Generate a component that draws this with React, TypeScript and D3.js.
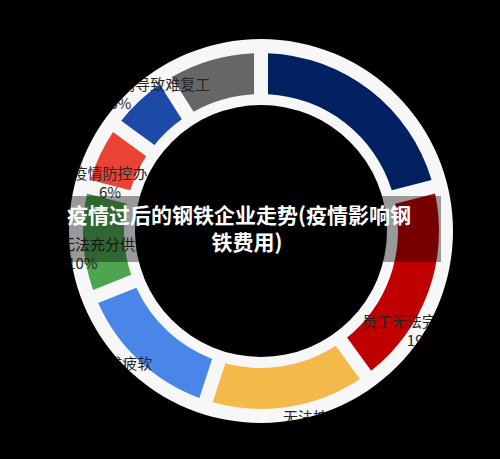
import React from 'react';
import * as d3 from 'd3';

// chart values
const causes = ['资金周转压力大', '员工无法完全返岗', '无法按时交货', '市场需求疲软', '原材料无法充分供应', '疫情防控办', '外地员工需隔离导致难复工', '物流运输受阻'];
const shares = [21, 19, 15, 14, 10, 6, 6, 9];
const colors = ['#002060', '#c00000', '#f4b94b', '#4a86e8', '#4da54f', '#ea4335', '#1c4aa6', '#666666'];
const titleLines = ['疫情过后的钢铁企业走势(疫情影响钢', '铁费用)'];

// label placement (degrees clockwise from top, radius)
const labelAngles = [45, 118.9, 160.1, 229.6, 266.2, 291.3, 316.4, 345];
const labelRadii = [250, 184, 197, 202, 179, 162, 204, 225];

const W = 500;
const H = 459;
const cx = 261;
const cy = 231;

const App: React.FC = () => {
  const total = d3.sum(shares);
  const rows = causes.map((name, i) => ({ name, value: shares[i], color: colors[i] }));

  const pie = d3.pie<any>().sort(null).value(d => d.value).startAngle(0).endAngle(Math.PI * 2);
  const arcs = pie(rows);

  const segArc = d3.arc<any>().innerRadius(137).outerRadius(178).padAngle(0.0623);
  const ringPath = d3.arc<any>()({ innerRadius: 126, outerRadius: 192, startAngle: 0, endAngle: Math.PI * 2 }) as string;
  const clipPath = d3.arc<any>()({ innerRadius: 126, outerRadius: 192.5, startAngle: 0, endAngle: Math.PI * 2 }) as string;

  return (
    <div style={{ position: 'absolute', left: 0, top: 0, width: W, height: H, background: '#000' }}>
      <svg width={W} height={H} style={{ display: 'block' }}>
        <defs>
          <clipPath id="ringClip">
            <path d={clipPath} transform={`translate(${cx},${cy})`} />
          </clipPath>
        </defs>
        <rect width={W} height={H} fill="#000" />
        <g transform={`translate(${cx},${cy})`}>
          <path d={ringPath} fill="#f7f7f7" />
          {arcs.map((a, i) => (
            <path key={i} d={segArc(a) as string} fill={a.data.color} />
          ))}
        </g>

        {/* labels only show on the light ring */}
        <g clipPath="url(#ringClip)" fontFamily="'Noto Sans CJK SC', 'Noto Sans', sans-serif" fontSize={15} fill="#262626" textAnchor="middle">
          {arcs.map((a, i) => {
            const [lx, ly] = d3.pointRadial((labelAngles[i] * Math.PI) / 180, labelRadii[i]);
            const pct = Math.round((a.data.value / total) * 100);
            return (
              <text key={i} x={cx + lx} y={cy + ly} dominantBaseline="central">
                <tspan x={cx + lx}>{a.data.name}</tspan>
                <tspan x={cx + lx} dy={19}>{pct}%</tspan>
              </text>
            );
          })}
        </g>

        {/* title band */}
        <rect x={45} y={196} width={396} height={66} fill="rgba(0,0,0,0.38)" />
        <text fontFamily="'Noto Sans CJK SC', sans-serif" fontWeight="bold" fontSize={21} fill="#fff" textAnchor="middle" dominantBaseline="central">
          <tspan x={239} y={214}>{titleLines[0]}</tspan>
          <tspan x={247} y={241}>{titleLines[1]}</tspan>
        </text>
      </svg>
    </div>
  );
};

export default App;
